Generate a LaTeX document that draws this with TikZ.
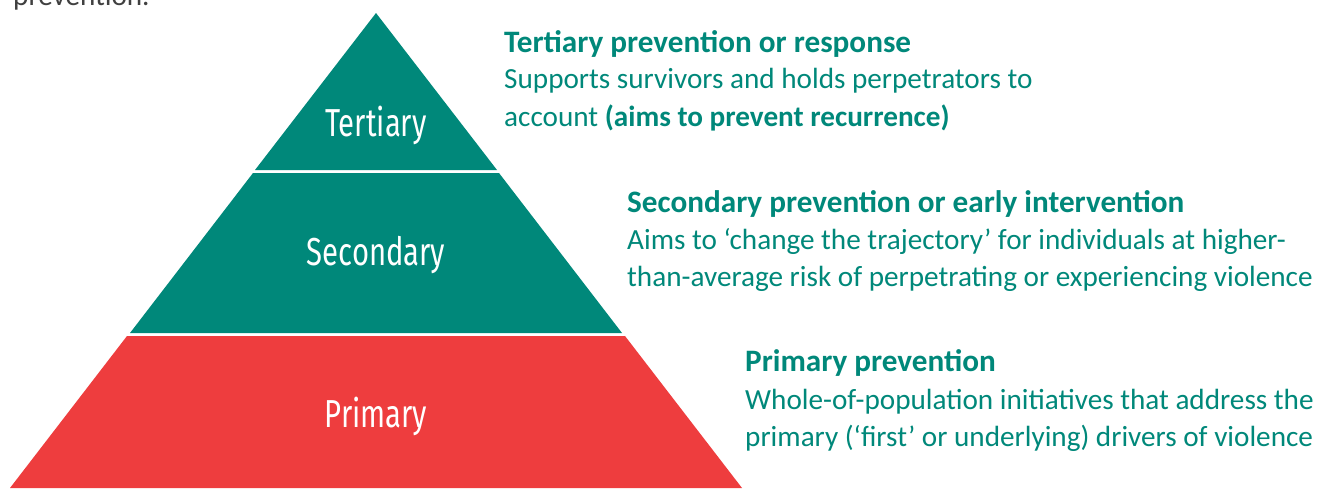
\documentclass[tikz,border=0pt]{standalone}
\usepackage{fontspec}
\setmainfont{Carlito}
\IfFontExistsTF{Fira Sans Book}{\newfontfamily\labfont[FakeStretch=0.75]{Fira Sans Book}}{\newfontfamily\labfont[FakeStretch=0.75]{Fira Sans}}
\definecolor{teal}{RGB}{0,136,122}
\definecolor{pred}{RGB}{238,61,62}
\definecolor{txtgray}{RGB}{64,64,64}
\tikzset{
  layer/.style={fill=teal},
  lab/.style={text=white, font=\labfont\fontsize{39}{39}\selectfont, inner sep=0pt, anchor=base},
  head/.style={text=teal, font=\bfseries\fontsize{31.2}{37}\selectfont, inner sep=0pt, anchor=base west},
  body/.style={text=teal, font=\fontsize{29.2}{37}\selectfont, inner sep=0pt, anchor=base west},
}
\begin{document}
\begin{tikzpicture}[x=1pt,y=-1pt]
\clip (0,0) rectangle (1329,488);
\fill[white] (0,0) rectangle (1329,488);
% cut-off text from the page above
\node[body, text=txtgray] (prev) at (13,5) {prevention.};
% pyramid
\fill[layer] (376,13) -- (497,170) -- (255,170) -- cycle;
\fill[layer] (253,173) -- (499,173) -- (622,333) -- (130,333) -- cycle;
\fill[pred] (127,336) -- (625,336) -- (742,488) -- (10,488) -- cycle;
\node[lab] (tert) at (376,136) {Tertiary};
\node[lab] (sec) at (376,265) {Secondary};
\node[lab] (prim) at (376,427) {Primary};
% tertiary text
\node[head] (th) at (504,52.5) {Tertiary prevention or response};
\node[body] (t1) at (504,88.5) {Supports survivors and holds perpetrators to};
\node[body] (t2) at (504,126) {account \textbf{(aims to prevent recurrence)}};
% secondary text
\node[head] (sh) at (627,212.5) {Secondary prevention or early intervention};
\node[body] (s1) at (627,249.5) {Aims to ‘change the trajectory’ for individuals at higher-};
\node[body] (s2) at (627,286.5) {than-average risk of perpetrating or experiencing violence};
% primary text
\node[head] (ph) at (745,371.5) {Primary prevention};
\node[body] (p1) at (745,409.5) {Whole-of-population initiatives that address the};
\node[body] (p2) at (745,446.5) {primary (‘first’ or underlying) drivers of violence};
\end{tikzpicture}
\end{document}
